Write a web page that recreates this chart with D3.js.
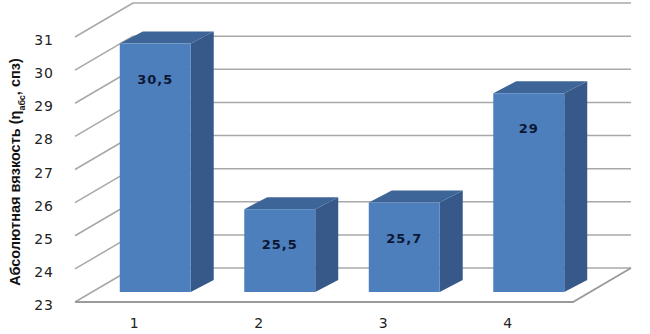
<!DOCTYPE html>
<html>
<head>
<meta charset="utf-8">
<script src="https://cdn.jsdelivr.net/npm/d3@7"></script>
<style>
	body { margin: 0; background: #fff; }
	svg { display: block; }
</style>
</head>
<body>
<svg id="chart" width="650" height="334"></svg>
<script>
var categories = ["1", "2", "3", "4"];
var values = [30.5, 25.5, 25.7, 29];
var valueLabels = ["30,5", "25,5", "25,7", "29"];
var yTicks = [23, 24, 25, 26, 27, 28, 29, 30, 31];

// 3d projection offsets
var DEPTH = {dx: 58, dy: -34};      // front plane -> back wall
var BAR_PLANE = {dx: 17, dy: -10};  // front plane -> bar front faces
var BAR_DEPTH = {dx: 23, dy: -12};  // bar front -> bar back

var svg = d3.select("#chart");

var x = d3.scaleBand()
	.domain(categories)
	.range([75, 573]);

var y = d3.scaleLinear()
	.domain([23, 31])
	.range([302, 37]);

var gridColor = "#a8a8a8";

// back wall gridlines
svg.append("g").selectAll("line.back")
	.data(yTicks)
	.enter()
	.append("line")
	.attr("x1", 75 + DEPTH.dx)
	.attr("x2", 573 + DEPTH.dx)
	.attr("y1", function(d) { return y(d) + DEPTH.dy; })
	.attr("y2", function(d) { return y(d) + DEPTH.dy; })
	.style("stroke", gridColor)
	.style("stroke-width", 1.5);

// left wall diagonals
svg.append("g").selectAll("line.side")
	.data(yTicks)
	.enter()
	.append("line")
	.attr("x1", 75)
	.attr("x2", 75 + DEPTH.dx)
	.attr("y1", function(d) { return y(d); })
	.attr("y2", function(d) { return y(d) + DEPTH.dy; })
	.style("stroke", gridColor)
	.style("stroke-width", 1.5);

// floor front + right edge
svg.append("path")
	.attr("d", "M75," + y(23) + "L573," + y(23) + "L" + (573 + DEPTH.dx) + "," + (y(23) + DEPTH.dy))
	.style("fill", "none")
	.style("stroke", "#9a9a9a")
	.style("stroke-width", 1.8);

// y tick labels
svg.append("g").selectAll("text")
	.data(yTicks)
	.enter()
	.append("text")
	.attr("x", 54)
	.attr("y", function(d) { return y(d) + 3; })
	.attr("text-anchor", "end")
	.attr("dominant-baseline", "central")
	.style("font-family", "DejaVu Sans")
	.style("font-size", "14px")
	.style("letter-spacing", "1px")
	.style("fill", "#222")
	.text(function(d) { return d; });

// bars
var barW = x.bandwidth() * 0.57;
var bars = svg.append("g").selectAll("g.bar")
	.data(values)
	.enter()
	.append("g")
	.classed("bar", true);

function bx0(d, i) { return x(categories[i]) + x.bandwidth() / 2 - barW / 2 + BAR_PLANE.dx + 1; }
function pts(a) { return a.map(function(p) { return p.join(","); }).join(" "); }

// right side
bars.append("polygon")
	.attr("points", function(d, i) {
		var x1 = bx0(d, i) + barW, yt = y(d) + BAR_PLANE.dy, yb = y(23) + BAR_PLANE.dy;
		return pts([[x1, yt], [x1 + BAR_DEPTH.dx, yt + BAR_DEPTH.dy], [x1 + BAR_DEPTH.dx, yb + BAR_DEPTH.dy], [x1, yb]]);
	})
	.style("fill", "#36598a");

// top
bars.append("polygon")
	.attr("points", function(d, i) {
		var x0 = bx0(d, i), x1 = x0 + barW, yt = y(d) + BAR_PLANE.dy;
		return pts([[x0, yt], [x0 + BAR_DEPTH.dx, yt + BAR_DEPTH.dy], [x1 + BAR_DEPTH.dx, yt + BAR_DEPTH.dy], [x1, yt]]);
	})
	.style("fill", "#3e6598");

// front
bars.append("rect")
	.attr("x", function(d, i) { return bx0(d, i); })
	.attr("y", function(d) { return y(d) + BAR_PLANE.dy; })
	.attr("width", barW)
	.attr("height", function(d) { return y(23) - y(d); })
	.style("fill", "#4d7fbd");

// value labels
bars.append("text")
	.attr("x", function(d, i) { return bx0(d, i) + barW / 2; })
	.attr("y", function(d) { return y(d) + BAR_PLANE.dy + 40; })
	.attr("text-anchor", "middle")
	.style("font-family", "DejaVu Sans")
	.style("font-weight", "bold")
	.style("font-size", "13px")
	.style("letter-spacing", "1px")
	.style("fill", "#0b1733")
	.text(function(d, i) { return valueLabels[i]; });

// category labels
svg.append("g").selectAll("text")
	.data(categories)
	.enter()
	.append("text")
	.attr("x", function(d) { return x(d) + x.bandwidth() / 2 - 3; })
	.attr("y", 328)
	.attr("text-anchor", "middle")
	.style("font-family", "DejaVu Sans")
	.style("font-size", "14px")
	.style("fill", "#222")
	.text(function(d) { return d; });

// y axis title
var title = svg.append("text")
	.attr("transform", "translate(20,172) rotate(-90)")
	.attr("text-anchor", "middle")
	.style("font-family", "Liberation Sans")
	.style("font-weight", "bold")
	.style("font-size", "14.5px")
	.style("fill", "#111");
title.append("tspan").text("Абсолютная вязкость (η");
title.append("tspan").attr("baseline-shift", "sub").style("font-size", "9px").text("абс");
title.append("tspan").text(", спз)");
</script>
</body>
</html>
